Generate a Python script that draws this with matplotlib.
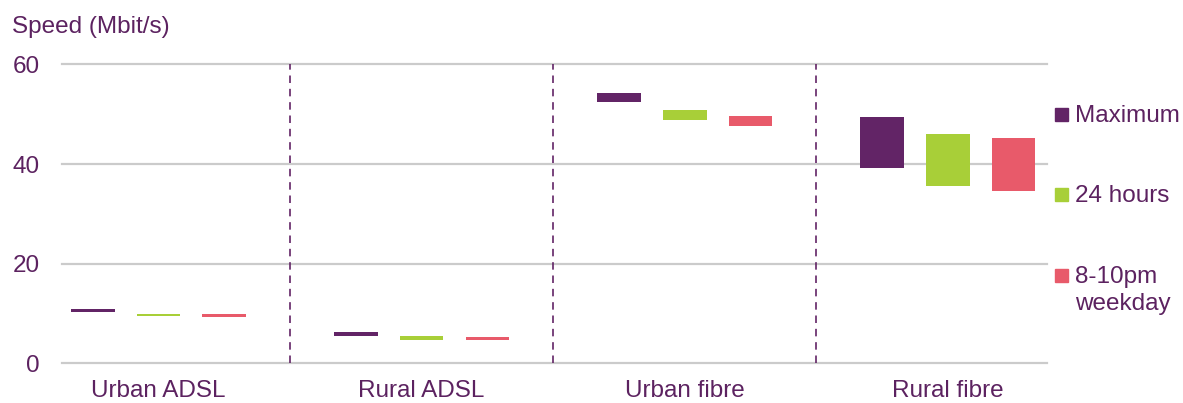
import matplotlib
matplotlib.use("Agg")
import matplotlib.pyplot as plt
from matplotlib.patches import Rectangle
import numpy as np

plt.rcParams['font.family'] = ['Liberation Sans', 'DejaVu Sans']

categories = ["Urban ADSL", "Rural ADSL", "Urban fibre", "Rural fibre"]
series = ["Maximum", "24 hours", "8-10pm\nweekday"]

# Speed ranges (low, high) in Mbit/s for each series
max_low = [10.3, 5.55, 52.4, 39.3]
max_high = [10.85, 6.2, 54.3, 49.5]
h24_low = [9.4, 4.75, 48.9, 35.6]
h24_high = [9.95, 5.4, 50.8, 46.1]
pm_low = [9.25, 4.65, 47.7, 34.6]
pm_high = [9.8, 5.3, 49.6, 45.2]

yticks = [0, 20, 40, 60]

colors = ["#622466", "#a8cf38", "#e85a6a"]
text_color = "#5c2260"
grid_color = "#cbcbcb"
fs = 17.5

fig = plt.figure(figsize=(11.83, 4.03), dpi=100)
ax = fig.add_axes([0.0522, 0.0985, 0.8330, 0.7415])

x = np.arange(len(categories))
offsets = [-0.25, 0.0, 0.25]
width = 0.166
lows = [max_low, h24_low, pm_low]
highs = [max_high, h24_high, pm_high]

for off, lo, hi, c in zip(offsets, lows, highs, colors):
    lo = np.array(lo)
    hi = np.array(hi)
    ax.bar(x + off, hi - lo, bottom=lo, width=width, color=c,
           edgecolor="none", zorder=3)

ax.set_xlim(-0.368, 3.378)
ax.set_ylim(0, 60)
ax.set_yticks(yticks)
ax.set_yticklabels([str(t) for t in yticks])
ax.set_xticks(x)
ax.set_xticklabels(categories)

for t in yticks:
    ax.axhline(t, color=grid_color, lw=1.6, zorder=1, clip_on=False)

for d in [0.5, 1.5, 2.5]:
    ax.plot([d, d], [0, 60], color="#622466", lw=1.2,
            linestyle=(0, (4.5, 3.5)), zorder=2, clip_on=False)

for s in ax.spines.values():
    s.set_visible(False)

ax.tick_params(axis='y', length=0, pad=16, labelsize=fs, labelcolor=text_color)
ax.tick_params(axis='x', length=0, pad=12, labelsize=fs, labelcolor=text_color)

fig.text(12 / 1183, 1 - 27 / 403, "Speed (Mbit/s)", fontsize=fs,
         color=text_color, ha='left', va='center')

# Legend: coloured squares with labels to the right
leg_y = [114, 194, 275]
for lbl, c, yp in zip(series, colors, leg_y):
    fig.patches.append(Rectangle((1055 / 1183, 1 - (yp + 6.5) / 403),
                                 12.7 / 1183, 12.7 / 403,
                                 transform=fig.transFigure, color=c))
    fig.text(1075 / 1183, 1 - (yp - 9) / 403, lbl, fontsize=fs,
             color=text_color, ha='left', va='top', linespacing=1.3)

fig.savefig("out.png", dpi=100, facecolor="white")
